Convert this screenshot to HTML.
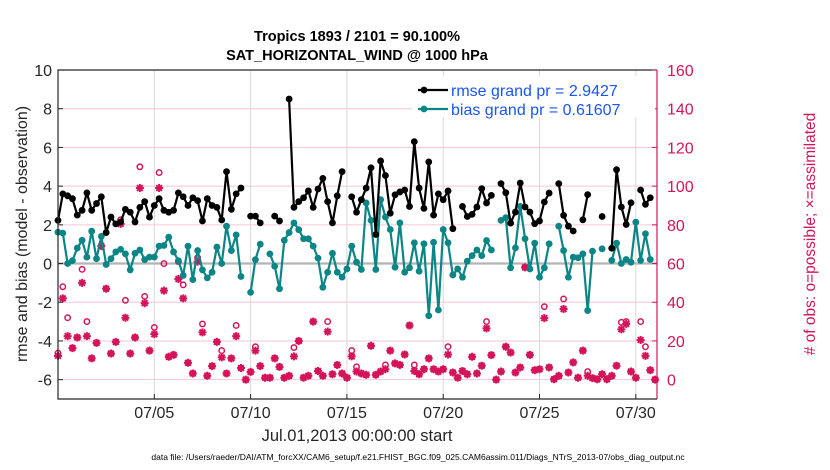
<!DOCTYPE html>
<html><head><meta charset="utf-8">
<style>
body{margin:0;background:#fff;font-family:"Liberation Sans",sans-serif}
svg{display:block}
</style></head>
<body>
<svg id="chart" width="830" height="470" font-family="Liberation Sans, sans-serif"></svg>
<script>
const dayTicks = [5,10,15,20,25,30];
const dayTickLabels = ["07/05","07/10","07/15","07/20","07/25","07/30"];
const leftTicks = [-6,-4,-2,0,2,4,6,8,10];
const rightTicks = [0,20,40,60,80,100,120,140,160];
const rmse = [2.23,3.6,3.5,3.35,2.5,2.75,3.65,2.75,3.1,3.45,1.6,2.4,2.05,2.15,2.8,2.65,2.15,2.9,3.2,2.4,3.0,3.35,2.75,2.65,2.75,3.65,3.45,3.0,3.4,3.25,2.2,3.35,3.0,2.9,2.25,4.75,2.8,3.6,3.9,null,2.45,2.45,2.1,null,null,2.45,2.2,null,8.5,2.9,3.2,3.4,3.75,2.9,3.85,4.4,3.2,2.1,3.5,4.75,null,3.45,2.65,3.3,3.9,4.95,1.5,5.3,4.55,2.6,3.55,3.7,3.8,2.95,6.3,3.9,2.85,5.25,2.5,3.6,3.3,3.75,1.8,null,2.95,2.43,2.54,2.92,3.87,3.13,3.52,null,4.13,3.66,2.09,2.66,4.16,2.92,2.66,2.06,2.2,3.18,3.64,null,4.13,2.49,1.93,1.68,null,2.26,3.56,null,null,2.43,null,0.79,4.85,2.92,2.02,3.14,null,3.8,3.06,3.4,null];
const bias = [1.62,1.57,0.0,0.15,0.8,1.2,0.33,1.67,0.25,1.4,-0.05,0.25,0.6,0.73,0.5,-0.33,0.53,0.7,0.2,0.33,0.33,0.9,0.93,1.36,0.6,0.15,-0.62,0.9,-0.83,0.67,-0.33,-0.74,-0.45,0.85,0,1.93,0.67,1.48,-0.67,null,-1.49,0.2,1.0,null,0.5,-0.14,-1.3,1.2,1.6,2.1,1.75,1.28,1.28,0.9,0.28,-1.23,-0.45,0.53,-0.45,-0.7,-0.28,0.9,0.07,-0.31,3.13,2.23,-0.31,3.3,2.4,1.76,-0.19,2.1,-0.45,-0.22,1.07,-0.4,1.02,-2.7,1.1,-2.4,1.76,1.07,-0.59,-0.28,-0.71,0.12,0.41,0.7,0.41,1.19,0.7,null,2.23,2.37,-0.22,0.81,2.95,1.28,-0.28,1.05,-0.71,-0.22,1.02,null,1.93,0.67,-0.71,0.33,0.3,0.5,-2.43,0.64,null,0.76,null,0.16,1.05,0,0.21,0.07,2.14,0.16,1.54,0.21,null];
const nAssim = [12.3,42,22.5,16.3,21.8,50,22.5,11,19,69,47,13.5,19.5,80.5,32,13.5,21.8,99,39.5,15,23.5,99,46,11.8,12.8,52,42,8.7,3.2,61,24.4,2,7,19.5,11.5,3.2,11,22.5,6,0,4,15,7,1,1,11,6.6,1,2,12,20,1,2,30,4.5,2,24.8,2.8,7.6,3.2,1,12,4.2,3.2,2.5,17.5,2.5,4.2,5.4,15,8.4,7.6,13,28,4.5,2.8,5.4,11,5.4,4.2,5.4,13,3.7,1,4.5,2.8,11.8,3.2,7.2,26.5,12.7,0,4.2,17,14,3.7,6.3,58,12.8,4.9,5.4,31.8,6.3,0.2,2,36.5,3.7,8.9,1,15,2,0.8,0.2,2.8,0.2,2,7.2,26,28.8,4.2,1,20.5,12.3,4.9,0];
const nPossible = [13.7,48,32,16.3,21.8,57,30,11,19,69,47,13.5,19.5,82.6,41,13.5,21.8,110,43,15,27,107,60,11.8,12.8,61,49,8.7,3.2,63,28.8,2,7,19.5,15,3.2,11,28,6,0,4,17,7,1,1,11,6.6,1,2,16.6,20,1,2,30,4.5,2,30,2.8,7.6,3.2,1,15,6.6,3.2,2.5,17.5,2.5,4.2,7.6,15,8.4,7.6,13,28,7.6,2.8,5.4,11,5.4,4.2,5.4,17,3.7,1,4.5,2.8,11.8,3.2,7.2,30,12.7,0,4.2,17,14,3.7,6.3,58,12.8,4.9,5.4,37.7,6.3,0.2,2,41.7,3.7,8.9,1,15,4.2,0.8,0.2,2.8,0.2,2,7.2,29.6,30,4.2,1,30,17,4.9,0];

const L=58, R=657, T=70, B=399;
const xs = d => L + (d/31.1)*(R-L);
const xi = i => xs(i*0.25);
const yl = v => T + (10-v)/17*(B-T);
const yr = c => yl(c/10-6);
const svg = document.getElementById('chart');
const NS='http://www.w3.org/2000/svg';
function el(tag, attrs, parent){const e=document.createElementNS(NS,tag);for(const k in attrs)e.setAttribute(k,attrs[k]);(parent||svg).appendChild(e);return e;}
function txt(s, attrs, parent){const e=el('text',attrs,parent);e.textContent=s;return e;}

const grid = el('g',{});


leftTicks.forEach(v=>{ if(v!==0 && v!==10) el('line',{x1:L,x2:R,y1:yl(v),y2:yl(v),stroke:'#f5c6d6','stroke-width':1},grid);});
dayTicks.forEach(d=>el('line',{x1:xs(d),x2:xs(d),y1:T,y2:B,stroke:'#d8d8d8','stroke-width':1},grid));
const zl = el('line',{x1:L,x2:R,y1:yl(0),y2:yl(0),stroke:'#b4b4b4','stroke-width':2.2});



const obs = el('g',{});


const RED='#d4145a';
nPossible.forEach((c,i)=>{ if(c==null) return;
  const m=el('circle',{cx:xi(i),cy:yr(c),r:2.7,fill:'none',stroke:RED,'stroke-width':1.5},obs);
  
  
});
nAssim.forEach((c,i)=>{ if(c==null) return;
  const x=xi(i), y=yr(c), s=4;
  const g=el('path',{d:`M${x-s} ${y}H${x+s}M${x} ${y-s}V${y+s}M${x-s*0.72} ${y-s*0.72}L${x+s*0.72} ${y+s*0.72}M${x-s*0.72} ${y+s*0.72}L${x+s*0.72} ${y-s*0.72}`,stroke:RED,'stroke-width':2},obs);
  
  
});

function series(data,color,name){
  const g=el('g',{});
  
  
  let d='', pen=false;
  data.forEach((v,i)=>{ if(v==null){pen=false;return;} d+=(pen?'L':'M')+xi(i).toFixed(1)+' '+yl(v).toFixed(1); pen=true;});
  el('path',{d:d,fill:'none',stroke:color,'stroke-width':2.2,'stroke-linejoin':'round'},g);
  data.forEach((v,i)=>{ if(v==null) return; const c=el('circle',{cx:xi(i),cy:yl(v),r:3.4,fill:color},g);
    
    });
}
const TEAL='#0b8585';
series(bias,TEAL,'bias-series');
series(rmse,'#000','rmse-series');

const ax=el('g',{});


el('path',{d:`M${R} ${T}H${L}V${B}H${R}`,fill:'none',stroke:'#262626','stroke-width':1.2},ax);
el('line',{x1:R,x2:R,y1:T,y2:B,stroke:RED,'stroke-width':1.2},ax);
leftTicks.forEach(v=>{
  el('line',{x1:L,x2:L+5,y1:yl(v),y2:yl(v),stroke:'#262626'},ax);
  const t=txt(String(v),{x:L-6,y:yl(v)+6,'text-anchor':'end','font-size':16,fill:'#262626'},ax);
  
  
});
rightTicks.forEach(c=>{
  el('line',{x1:R-5,x2:R,y1:yr(c),y2:yr(c),stroke:RED},ax);
  const t=txt(String(c),{x:R+10,y:yr(c)+6,'font-size':16,fill:RED},ax);
  
  
});
dayTicks.forEach((d,k)=>{
  el('line',{x1:xs(d),x2:xs(d),y1:B,y2:B-5,stroke:'#262626'},ax);
  const t=txt(dayTickLabels[k],{x:xs(d),y:B+19,'text-anchor':'middle','font-size':16,fill:'#262626'},ax);
  
  
});
</script>
<svg style="position:absolute;left:0;top:0" width="830" height="470" font-family="Liberation Sans, sans-serif">
  <text x="357" y="41" text-anchor="middle" font-size="14.5" font-weight="bold" fill="#000">Tropics 1893 / 2101 = 90.100%</text>
  <text x="357" y="60" text-anchor="middle" font-size="14.5" font-weight="bold" fill="#000">SAT_HORIZONTAL_WIND @ 1000 hPa</text>
  <text transform="translate(27,234) rotate(-90)" text-anchor="middle" font-size="16" fill="#262626">rmse and bias (model - observation)</text>
  <text transform="translate(815,234) rotate(-90)" text-anchor="middle" font-size="15.5" fill="#d4145a"># of obs: o=possible; ×=assimilated</text>
  <text x="357" y="441" text-anchor="middle" font-size="16.5" fill="#262626">Jul.01,2013 00:00:00 start</text>
  <text x="418" y="460" text-anchor="middle" font-size="8.5" fill="#000">data file: /Users/raeder/DAI/ATM_forcXX/CAM6_setup/f.e21.FHIST_BGC.f09_025.CAM6assim.011/Diags_NTrS_2013-07/obs_diag_output.nc</text>
  <g>
    <rect x="412" y="76" width="243" height="41" fill="#fff"/>
    <g>
      <line x1="418" x2="448" y1="90" y2="90" stroke="#000" stroke-width="2.2"/>
      <circle cx="424" cy="90" r="3.4" fill="#000"/>
      <text x="451" y="96" font-size="16" fill="#1a55f5">rmse grand pr = 2.9427</text>
    </g>
    <g>
      <line x1="418" x2="448" y1="109" y2="109" stroke="#0b8585" stroke-width="2.2"/>
      <circle cx="424" cy="109" r="3.4" fill="#0b8585"/>
      <text x="451" y="115" font-size="16" fill="#1a55f5">bias grand pr = 0.61607</text>
    </g>
  </g>
</svg>
</body></html>
